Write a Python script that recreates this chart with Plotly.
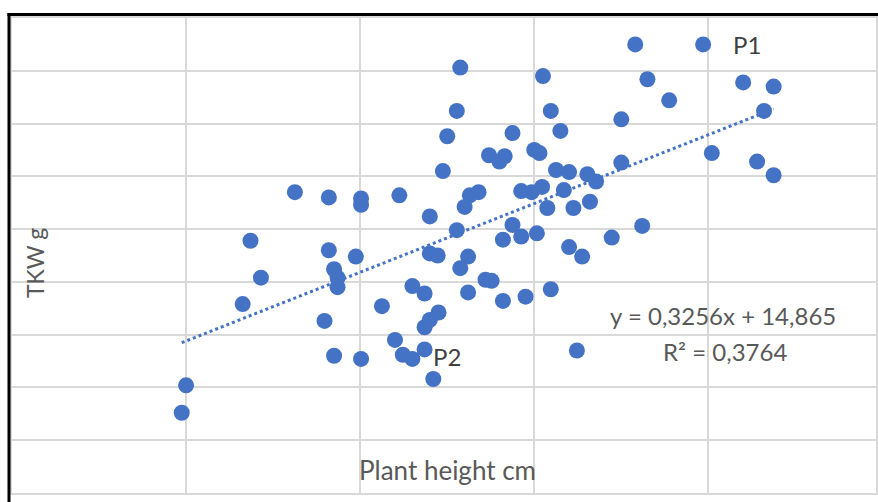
import plotly.graph_objects as go

# Plant height (cm) and thousand kernel weight (g) per genotype
plant_height = [
    111.6, 119.4, 91.5, 101.0, 113.0, 124.0, 127.5, 115.5, 91.1, 101.9,
    126.4, 110.0, 90.0, 97.5, 103.0, 94.8, 96.0, 96.6, 100.0, 100.6,
    120.4, 110.0, 125.6, 89.5, 102.5, 104.0, 106.1, 107.1, 127.5, 72.5,
    76.4, 80.1, 80.1, 84.5, 92.6, 93.6, 92.0, 98.5, 99.7, 100.9,
    103.4, 101.5, 104.5, 106.4, 88.0, 91.1, 97.5, 98.5, 96.4, 100.3,
    104.0, 105.5, 108.9, 112.4, 67.4, 76.4, 79.5, 77.0, 77.4, 77.4,
    68.6, 66.5, 75.9, 77.0, 80.1, 60.0, 59.5, 82.5, 86.0, 87.4,
    89.0, 88.0, 87.4, 84.0, 84.9, 86.0, 87.4, 88.4, 92.4, 94.4,
    95.1, 96.4, 99.0, 101.9, 104.9, 88.0, 88.9, 92.4, 91.5,
]
tkw = [
    62.5, 62.5, 60.3, 59.5, 59.2, 58.9, 58.5, 57.2, 56.2, 56.2,
    56.2, 55.4, 53.8, 54.1, 54.3, 52.0, 51.4, 51.9, 52.5, 52.2,
    52.2, 51.3, 51.4, 50.5, 50.6, 50.4, 50.2, 49.5, 50.1, 48.5,
    48.0, 47.9, 47.3, 48.2, 48.2, 48.5, 47.1, 48.6, 48.5, 49.0,
    48.7, 47.0, 47.0, 47.6, 46.2, 44.9, 45.4, 44.3, 44.0, 44.6,
    43.3, 42.4, 44.2, 45.3, 43.9, 43.0, 42.4, 41.2, 40.4, 39.5,
    40.4, 37.9, 36.3, 33.0, 32.7, 30.2, 27.6, 37.7, 39.6, 38.9,
    37.1, 36.4, 35.7, 34.5, 33.1, 32.7, 33.6, 30.8, 39.0, 40.2,
    40.1, 38.2, 38.6, 39.3, 33.5, 42.7, 42.5, 42.4, 41.3,
]

# Linear trendline as reported on the chart
slope = 0.3256
intercept = 14.865
r_squared = 0.3764

# Highlighted genotypes
label_names = ["P1", "P2"]
label_x = [122.6, 88.1]
label_y = [62.5, 32.9]

x_title = "Plant height cm"
y_title = "TKW g"

BLUE = "#4472C4"
GRID = "#D9D9D9"
TEXT = "#595959"
FONT = "Lato, Calibri, Carlito, sans-serif"

trend_x = [min(plant_height), max(plant_height)]
trend_y = [slope * v + intercept for v in trend_x]

fig = go.Figure()

fig.add_trace(go.Scatter(
    x=plant_height, y=tkw, mode="markers",
    marker=dict(color=BLUE, size=16, line=dict(width=0)),
    showlegend=False, hoverinfo="x+y",
))

fig.add_trace(go.Scatter(
    x=trend_x, y=trend_y, mode="lines",
    line=dict(color=BLUE, width=3, dash="dot"),
    showlegend=False, hoverinfo="skip",
))

def fmt(v):
    return str(v).replace(".", ",")

annotations = []
for name, lx, ly in zip(label_names, label_x, label_y):
    annotations.append(dict(
        x=lx, y=ly, xref="x", yref="y", text=name, showarrow=False,
        xanchor="left", yanchor="middle",
        font=dict(family=FONT, size=24, color="#404040"),
    ))

annotations.append(dict(
    x=121.7, y=36.8, xref="x", yref="y",
    text=f"y = {fmt(slope)}x + {fmt(intercept)}", showarrow=False,
    xanchor="center", yanchor="middle",
    font=dict(family=FONT, size=24, color=TEXT),
))
annotations.append(dict(
    x=121.9, y=33.4, xref="x", yref="y",
    text=f"R² = {fmt(r_squared)}", showarrow=False,
    xanchor="center", yanchor="middle",
    font=dict(family=FONT, size=24, color=TEXT),
))
annotations.append(dict(
    x=0.5035, y=0.0484, xref="paper", yref="paper", text=x_title,
    showarrow=False, xanchor="center", yanchor="middle",
    font=dict(family=FONT, size=26, color=TEXT),
))
annotations.append(dict(
    x=0.0266, y=0.484, xref="paper", yref="paper", text=y_title,
    showarrow=False, xanchor="center", yanchor="middle", textangle=-90,
    font=dict(family=FONT, size=23, color=TEXT),
))

# Black frame on the left and top edges
bx = (9 - 12) / 866
ty = (493 - 14.5) / 475
shapes = [
    dict(type="line", xref="paper", yref="paper", x0=bx, x1=bx,
         y0=-0.05, y1=ty, line=dict(color="black", width=3)),
    dict(type="line", xref="paper", yref="paper", x0=bx - 0.002, x1=1.05,
         y0=ty, y1=ty, line=dict(color="black", width=3)),
]

fig.update_layout(
    width=878, height=502,
    margin=dict(l=12, r=0, t=18, b=9),
    paper_bgcolor="white", plot_bgcolor="white",
    annotations=annotations, shapes=shapes,
    xaxis=dict(range=[40, 139.26], dtick=20, tick0=40, showgrid=True,
               gridcolor=GRID, gridwidth=1.5, showticklabels=False,
               zeroline=False, showline=True, linecolor=GRID,
               linewidth=1.5, mirror=True, ticks=""),
    yaxis=dict(range=[20, 65], dtick=5, tick0=20, showgrid=True,
               gridcolor=GRID, gridwidth=1.5, showticklabels=False,
               zeroline=False, showline=True, linecolor=GRID,
               linewidth=1.5, mirror=True, ticks=""),
)

fig.write_html("out.html")
